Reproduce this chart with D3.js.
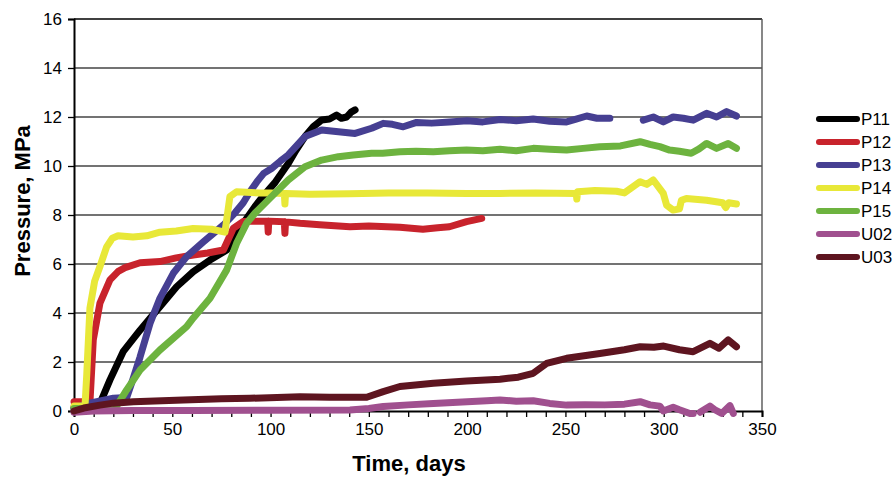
<!DOCTYPE html>
<html><head><meta charset="utf-8">
<script src="https://cdn.jsdelivr.net/npm/d3@7"></script>
<style>body{margin:0;background:#fff}svg{display:block}text{font-family:"Liberation Sans",Arial,sans-serif}</style>
</head><body><svg id="c" width="895" height="477"></svg>
<script>
const seriesNames = ["P11","P12","P13","P14","P15","U02","U03"];
const seriesColors = ["#000000","#c8232c","#463f92","#e8e838","#6db33f","#a0508f","#5e1520"];
const xTicks = [0,50,100,150,200,250,300,350];
const yTicks = [0,2,4,6,8,10,12,14,16];

const p11 = [[0,0.15],[8,0.15],[13,0.3],[14,0.45],[18.3,1.27],[25,2.42],[33.6,3.3],[43.7,4.26],[52.2,5.07],[60.7,5.69],[69.2,6.16],[77.7,6.57],[82,7.1],[86.1,7.66],[92,8.34],[96,8.75],[102,9.3],[109,10.1],[113,10.65],[117.5,11.2],[121.7,11.6],[126,11.88],[130,11.92],[133.6,12.08],[136,11.95],[138.7,12.0],[141,12.2],[143,12.29]];
const p12 = [[0,0.38],[7.5,0.38],[8.1,0.33],[9.8,2.9],[13.2,4.4],[18.3,5.35],[22.5,5.7],[26,5.85],[33.6,6.05],[43.7,6.1],[52,6.25],[60.7,6.37],[68,6.45],[76,6.57],[81,7.45],[86,7.73],[92,7.75],[98.5,7.75],[98.8,7.3],[99.1,7.75],[107,7.72],[107.3,7.25],[107.6,7.72],[115,7.66],[125,7.6],[140.4,7.52],[150,7.55],[165.8,7.5],[177.5,7.42],[185,7.48],[191,7.52],[199.7,7.73],[207.4,7.86]];
const p13 = [[0,0.1],[8,0.32],[20,0.52],[26.8,0.55],[30,1.3],[33.6,2.2],[38.7,3.58],[43.7,4.6],[50.5,5.62],[57.3,6.3],[65.8,6.9],[76,7.59],[82,8.1],[86.1,8.5],[89.5,8.95],[93,9.35],[96.5,9.7],[100.5,9.9],[105,10.2],[109,10.45],[117.5,11.2],[126,11.47],[134.5,11.4],[143,11.33],[151.4,11.54],[157.3,11.74],[162,11.7],[167.5,11.6],[174.3,11.78],[182,11.75],[191,11.8],[200,11.85],[208,11.8],[216.7,11.9],[225,11.85],[233.6,11.92],[242,11.83],[250.6,11.8],[255,11.9],[260.8,12.04],[266,11.95],[272.6,11.95],[280,null],[289.6,11.87],[294.7,12.0],[299.8,11.8],[304.8,12.0],[310,11.95],[315,11.87],[321.8,12.15],[326.9,12.0],[332,12.22],[337,12.04]];
const p14 = [[0,0.2],[5.6,0.2],[6.5,1.5],[8.1,4.2],[10.5,5.3],[13.2,5.9],[16.6,6.7],[19.5,7.05],[22.4,7.15],[30,7.1],[37,7.15],[43.7,7.3],[52,7.35],[60.6,7.45],[70,7.42],[76.8,7.3],[79.3,8.75],[82.7,8.95],[94.6,8.9],[100,8.9],[107,8.88],[107.3,8.45],[107.6,8.88],[120,8.85],[140,8.87],[160,8.9],[180,8.9],[200,8.88],[216.7,8.88],[235,8.9],[255.5,8.88],[255.8,8.65],[256.2,8.95],[265,9.0],[276,8.97],[280,8.9],[288,9.36],[291.4,9.25],[294.7,9.43],[299.8,8.88],[301.5,8.4],[304.8,8.2],[308,8.25],[309,8.6],[311.5,8.67],[321.8,8.6],[330,8.5],[331.6,8.3],[333,8.5],[337,8.45]];
const p15 = [[0,0.1],[20.9,0.1],[26.8,0.86],[33.6,1.67],[43.7,2.49],[57.3,3.44],[60.7,3.8],[69.2,4.6],[77.7,5.76],[82.7,6.84],[87.8,7.66],[92,8.07],[100.5,8.75],[109,9.43],[117.5,9.97],[126,10.24],[134.5,10.38],[142,10.45],[151.4,10.52],[157,10.52],[165.8,10.58],[174,10.6],[182.8,10.58],[191,10.62],[199.7,10.65],[208,10.62],[216.7,10.68],[225,10.62],[233.6,10.72],[242,10.68],[250.6,10.65],[259,10.72],[267.5,10.79],[278,10.82],[288,10.99],[293,10.88],[298,10.79],[303,10.65],[308,10.6],[314,10.52],[318,10.7],[321.8,10.92],[326.9,10.72],[332.8,10.92],[337,10.72]];
const u02 = [[0,-0.05],[10,0.0],[30,0.02],[60,0.02],[100,0.03],[140.4,0.04],[150,0.1],[157.3,0.18],[170,0.25],[182.8,0.31],[200,0.38],[210,0.42],[216.7,0.45],[225,0.4],[233.6,0.42],[242,0.31],[250.6,0.24],[260,0.26],[270,0.25],[280,0.28],[288,0.38],[293,0.25],[298,0.2],[299.8,0.0],[304.8,0.15],[308,0.05],[313.3,-0.1],[315,-0.1],[316,null],[318.5,-0.05],[323.5,0.2],[326,0.05],[329.5,-0.1],[333.7,0.22],[335.4,-0.1]];
const u03 = [[0,0.0],[5,0.12],[13.2,0.24],[20,0.32],[30.2,0.38],[55.6,0.45],[75,0.5],[89.5,0.52],[115,0.58],[130,0.56],[148.9,0.56],[157.3,0.79],[165.8,1.0],[182.8,1.13],[199.7,1.22],[216.7,1.3],[226,1.38],[233.6,1.54],[240.4,1.94],[250.6,2.15],[267.5,2.35],[280,2.5],[288,2.62],[295,2.6],[300,2.65],[308,2.5],[315,2.42],[323.5,2.76],[328,2.56],[332.8,2.9],[337,2.62]];
const seriesData = [p11,p12,p13,p14,p15,u02,u03];

const svg = d3.select("#c");
const x = d3.scaleLinear().domain([0,350]).range([74,762]);
const y = d3.scaleLinear().domain([0,16]).range([411,19]);

svg.append("g").selectAll("line").data(yTicks.filter(d=>d>0)).join("line")
  .attr("x1",x(0)).attr("x2",x(350)).attr("y1",d=>y(d)).attr("y2",d=>y(d))
  .attr("stroke",d=>d===16?"#000":"#444").attr("stroke-width",1.4);
svg.append("line").attr("x1",x(350)).attr("x2",x(350)).attr("y1",y(16)).attr("y2",y(0))
  .attr("stroke","#555").attr("stroke-width",1.4);

const xAxis = d3.axisBottom(x).tickValues(d3.range(0,351,10)).tickSize(6).tickFormat(d=>xTicks.includes(d)?d:"");
const gx = svg.append("g").attr("transform",`translate(0,${y(0)})`).call(xAxis);
gx.select(".domain").attr("stroke","#000").attr("stroke-width",2);
gx.selectAll(".tick line").attr("stroke","#000").attr("stroke-width",1.3);
gx.selectAll(".tick text").attr("font-size",17).attr("fill","#000").attr("dy","1.0em").attr("y",7);

const yAxis = d3.axisLeft(y).tickValues(yTicks).tickSize(6).tickPadding(6);
const gy = svg.append("g").attr("transform",`translate(${x(0)},0)`).call(yAxis);
gy.select(".domain").attr("stroke","#000").attr("stroke-width",2);
gy.selectAll(".tick line").attr("stroke","#000").attr("stroke-width",1.3);
gy.selectAll(".tick text").attr("font-size",17).attr("fill","#000");

const line = d3.line().defined(d=>d[1]!==null).x(d=>x(d[0])).y(d=>y(d[1])).curve(d3.curveLinear);
seriesData.forEach((s,i)=>{
  svg.append("path").datum(s).attr("d",line).attr("fill","none")
    .attr("stroke",seriesColors[i]).attr("stroke-width",7)
    .attr("stroke-linecap","round").attr("stroke-linejoin","round");
});

svg.append("text").attr("x",409).attr("y",471).attr("text-anchor","middle")
  .attr("font-size",22).attr("font-weight","bold").text("Time, days");
svg.append("text").attr("transform","translate(29.5,201) rotate(-90)").attr("text-anchor","middle")
  .attr("font-size",22).attr("font-weight","bold").text("Pressure, MPa");

const lg = svg.append("g");
seriesNames.forEach((n,i)=>{
  const yy = 119 + i*23;
  lg.append("line").attr("x1",819).attr("x2",857).attr("y1",yy).attr("y2",yy)
    .attr("stroke",seriesColors[i]).attr("stroke-width",6).attr("stroke-linecap","round");
  lg.append("text").attr("x",861).attr("y",yy+6).attr("font-size",17).text(n);
});
</script></body></html>
